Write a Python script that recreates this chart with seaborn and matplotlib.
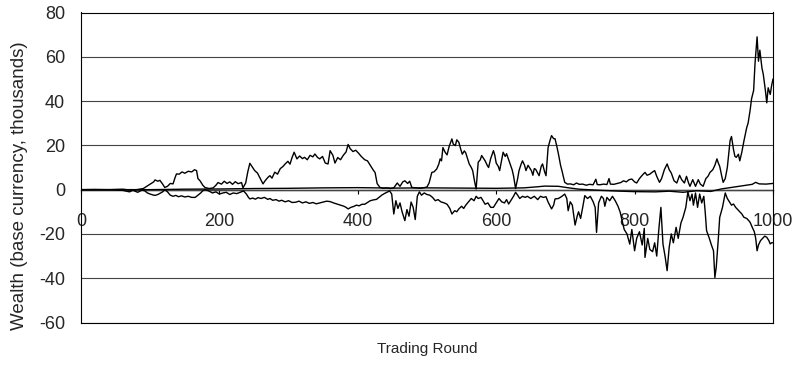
import matplotlib
matplotlib.use("Agg")
import matplotlib.pyplot as plt
import numpy as np
import pandas as pd
import seaborn as sns

# Upper trader wealth path (rounds, thousands)
rounds_a = [0, 20, 40, 60, 75, 85, 90, 95, 100, 105, 107, 111, 114, 118, 121, 125, 129, 133, 136, 138,
            142, 146, 150, 155, 160, 164, 167, 169, 172, 176, 179, 185, 191, 195, 198, 203, 207, 211, 215, 219,
            223, 227, 232, 234, 238, 241, 244, 247, 251, 255, 259, 263, 266, 270, 273, 276, 280, 284, 288, 292,
            295, 299, 302, 305, 308, 312, 316, 320, 323, 327, 331, 335, 338, 342, 345, 349, 353, 357, 360, 364,
            367, 371, 375, 379, 383, 386, 389, 393, 397, 401, 405, 410, 414, 418, 422, 425, 428, 432, 437, 442,
            447, 452, 457, 461, 465, 468, 472, 475, 478, 484, 490, 496, 500, 503, 507, 510, 514, 517, 519, 521,
            523, 526, 529, 532, 536, 538, 541, 543, 546, 549, 551, 554, 556, 559, 561, 564, 566, 569, 571, 573,
            574, 577, 579, 582, 584, 587, 589, 592, 596, 598, 600, 603, 605, 608, 610, 613, 615, 618, 620, 623,
            625, 628, 631, 633, 636, 638, 641, 643, 646, 648, 651, 653, 655, 657, 660, 662, 665, 667, 670, 672,
            675, 678, 680, 683, 685, 688, 690, 693, 695, 699, 703, 707, 712, 716, 720, 725, 730, 735, 740, 744,
            746, 750, 755, 760, 763, 765, 770, 775, 780, 784, 788, 792, 796, 800, 803, 807, 811, 815, 818, 822,
            826, 829, 832, 836, 839, 843, 847, 850, 853, 857, 861, 865, 868, 872, 875, 878, 880, 884, 888, 892,
            895, 899, 903, 906, 909, 913, 916, 919, 921, 923, 926, 928, 931, 934, 936, 938, 940, 943, 945, 947,
            950, 952, 955, 958, 962, 964, 967, 969, 972, 974, 977, 979, 981, 984, 986, 989, 991, 993, 996, 998,
            1000]
wealth_a = [0, 0.1, 0, 0.2, -0.3, 0.2, 0.5, 1.5, 2.5, 3.5, 4.4, 3.8, 4.2, 2.5, 1.0, 1.5, 2.8, 2.6, 5.5, 7.1,
            7.0, 8.0, 7.4, 8.3, 8.0, 9.0, 8.6, 5.0, 4.0, 2.0, 1.0, 0.5, 0.8, 2.0, 3.2, 2.5, 3.8, 2.8, 3.5, 2.4,
            3.6, 2.7, 3.2, 0.8, 3.0, 8.0, 11.9, 10.5, 8.6, 7.5, 5.0, 2.6, 4.0, 5.5, 6.3, 5.2, 7.9, 7.0, 9.5, 10.5,
            11.6, 12.8, 11.5, 14.5, 16.9, 13.9, 15.2, 14.0, 14.6, 13.5, 15.5, 14.8, 16.1, 14.5, 13.9, 15.0, 12.0, 11.6, 17.6, 15.5,
            12.0, 14.5, 13.5, 15.5, 17.0, 20.4, 18.5, 17.2, 17.8, 16.5, 15.0, 13.5, 13.0, 11.0, 9.0, 7.7, 2.7, 1.0, 0.6, 0.8,
            0.5, 0.8, 3.0, 1.5, 3.5, 4.0, 2.8, 3.8, 1.0, 0.8, 0.6, 0.9, 1.2, 3.0, 7.8, 8.0, 9.3, 11.5, 13.9, 13.0,
            19.0, 17.0, 15.7, 19.5, 22.9, 20.5, 19.9, 22.5, 21.4, 18.0, 16.0, 17.5, 16.6, 13.5, 11.6, 10.0, 8.6, 3.3, 0.3, 8.0,
            12.4, 13.5, 15.4, 14.0, 13.0, 11.0, 10.0, 14.0, 17.6, 15.5, 12.0, 10.5, 8.6, 13.5, 16.9, 15.0, 16.2, 13.5, 11.6, 9.0,
            6.3, 0.5, 5.0, 8.6, 11.5, 13.0, 11.0, 8.6, 11.0, 10.0, 8.5, 6.5, 9.5, 9.2, 7.5, 6.3, 10.5, 11.6, 8.0, 6.3,
            19.0, 22.5, 24.4, 23.0, 23.0, 19.0, 16.0, 11.0, 8.6, 3.3, 2.5, 2.6, 2.2, 3.0, 2.4, 2.5, 2.0, 2.4, 2.2, 4.7,
            2.3, 2.2, 2.5, 2.3, 5.0, 2.5, 2.4, 2.8, 3.2, 4.0, 3.5, 4.5, 4.8, 3.5, 3.0, 5.0, 6.5, 7.8, 6.5, 7.0,
            8.0, 8.6, 6.0, 3.3, 5.0, 9.0, 11.6, 9.0, 7.5, 4.0, 3.0, 6.5, 4.5, 3.0, 6.0, 3.0, 1.5, 4.5, 1.5, 4.5,
            2.5, 1.5, 5.0, 6.0, 7.8, 9.0, 11.0, 13.9, 12.0, 10.5, 6.0, 3.3, 5.0, 10.0, 16.0, 22.2, 24.0, 18.0, 15.0, 14.6,
            16.0, 13.0, 17.0, 22.0, 28.0, 30.0, 36.0, 41.0, 44.8, 56.9, 69.0, 58.0, 63.0, 55.0, 52.0, 44.8, 39.2, 46.0, 43.0, 47.0,
            50.0]

# Lower trader wealth path
rounds_b = [0, 20, 40, 60, 70, 75, 82, 88, 92, 96, 100, 104, 107, 111, 115, 118, 121, 125, 129, 133,
            137, 141, 145, 150, 155, 160, 165, 169, 173, 176, 179, 184, 190, 195, 200, 205, 210, 215, 220, 225,
            230, 235, 239, 242, 244, 248, 252, 256, 260, 265, 270, 273, 277, 282, 286, 290, 295, 300, 305, 310,
            315, 320, 325, 330, 335, 340, 345, 350, 355, 360, 365, 370, 375, 380, 383, 386, 390, 394, 398, 402,
            406, 410, 414, 418, 423, 427, 431, 435, 440, 446, 449, 452, 455, 458, 461, 464, 468, 471, 474, 477,
            480, 483, 486, 489, 492, 496, 500, 504, 508, 512, 516, 520, 525, 529, 533, 536, 540, 543, 546, 550,
            553, 556, 560, 564, 568, 571, 574, 578, 581, 584, 588, 592, 596, 600, 604, 608, 612, 615, 618, 622,
            625, 628, 631, 634, 638, 642, 645, 650, 655, 660, 664, 668, 672, 675, 678, 680, 683, 685, 690, 695,
            699, 702, 704, 707, 710, 714, 717, 719, 722, 725, 728, 732, 736, 740, 743, 745, 748, 752, 755, 757,
            760, 764, 768, 772, 776, 779, 782, 785, 789, 793, 796, 800, 803, 807, 811, 814, 815, 819, 822, 826,
            829, 832, 835, 838, 841, 844, 847, 850, 853, 856, 860, 863, 867, 870, 874, 877, 880, 883, 885, 888,
            891, 894, 897, 900, 902, 904, 908, 911, 914, 916, 918, 921, 923, 927, 931, 934, 937, 940, 943, 946,
            949, 952, 955, 958, 962, 965, 967, 970, 973, 975, 977, 979, 982, 985, 988, 991, 994, 996, 998, 1000]
wealth_b = [0, -0.1, 0, -0.3, -1.0, -0.3, -1.2, -0.2, -0.5, -1.5, -2.0, -2.4, -2.6, -2.2, -1.5, -1.0, 0.0, -1.0, -2.5, -3.0,
            -2.6, -3.2, -2.8, -3.3, -3.0, -3.5, -3.5, -2.5, -1.5, -0.5, 0.0, -0.5, -1.5, -1.0, -2.0, -1.5, -1.2, -2.2, -1.5, -1.8,
            -1.2, -0.6, -2.0, -3.5, -4.2, -3.8, -4.3, -3.6, -4.0, -3.5, -4.4, -4.0, -4.8, -4.5, -5.2, -4.8, -5.5, -5.0, -5.8, -5.7,
            -5.2, -6.0, -5.5, -6.2, -5.8, -6.4, -6.0, -5.6, -5.2, -5.4, -6.0, -6.5, -7.0, -7.5, -8.0, -8.7, -8.0, -7.6, -7.0, -7.3,
            -6.6, -6.6, -5.8, -5.0, -4.6, -4.4, -3.4, -2.4, -1.5, -0.6, -2.0, -11.0, -5.0, -8.5, -6.0, -10.0, -14.0, -9.0, -12.0, -5.6,
            -8.0, -13.5, -3.0, -1.0, -2.5, -1.5, -2.2, -2.5, -3.5, -5.0, -4.5, -5.5, -6.0, -6.6, -8.5, -11.0, -9.5, -10.0, -8.7, -7.5,
            -8.5, -7.0, -5.5, -4.0, -5.0, -3.0, -4.0, -3.5, -5.0, -6.6, -6.0, -8.0, -8.0, -6.0, -4.0, -5.5, -6.0, -4.5, -6.5, -4.5,
            -3.0, -1.2, -2.5, -4.0, -3.0, -3.5, -3.0, -4.0, -3.0, -4.5, -3.0, -3.5, -3.2, -5.6, -7.5, -8.7, -7.0, -4.2, -4.0, -3.0,
            -2.0, -4.0, -9.5, -5.5, -7.0, -16.0, -12.0, -10.0, -13.0, -8.0, -2.7, -4.0, -3.0, -5.4, -8.0, -19.3, -6.0, -3.0, -4.0, -7.5,
            -3.5, -5.0, -3.0, -5.0, -7.5, -10.0, -14.0, -18.0, -20.0, -24.6, -18.0, -27.6, -22.0, -19.0, -25.0, -17.5, -30.6, -22.0, -27.0, -28.0,
            -24.0, -30.0, -18.0, -8.0, -24.6, -30.0, -36.6, -26.0, -20.0, -24.0, -17.0, -22.0, -15.0, -12.5, -8.0, -1.0, -5.0, -2.0, -7.0, -1.5,
            -8.0, -2.0, -6.0, -3.0, -10.0, -18.5, -22.0, -25.0, -27.6, -39.7, -35.0, -22.0, -12.5, -8.0, -1.5, -4.0, -5.5, -7.0, -6.5, -8.0,
            -9.0, -10.0, -11.0, -12.5, -13.0, -14.0, -14.8, -17.0, -19.0, -22.0, -27.6, -25.0, -23.0, -22.0, -21.0, -21.5, -23.0, -24.5, -24.0, -24.0]

# Third trader, staying close to zero
rounds_c = [0, 100, 150, 200, 250, 300, 350, 400, 450, 500, 550, 600, 640, 660, 670, 690, 705, 720, 750, 780,
            800, 830, 850, 870, 890, 910, 925, 940, 955, 970, 975, 980, 990, 1000]
wealth_c = [0, 0, 0.2, 0.3, 0.5, 0.6, 0.8, 0.9, 0.7, 0.8, 0.7, 0.6, 0.8, 1.3, 1.6, 1.5, 0.8, 0.2, -0.3, -0.7,
            -0.9, -1.0, -0.7, -1.2, -0.5, -0.8, 0.3, 1.0, 1.7, 2.4, 3.3, 2.6, 2.5, 2.8]

x_ticks = [0, 200, 400, 600, 800, 1000]
y_ticks = [-60, -40, -20, 0, 20, 40, 60, 80]

df = pd.concat([
    pd.DataFrame({"round": rounds_a, "wealth": wealth_a, "trader": "A"}),
    pd.DataFrame({"round": rounds_b, "wealth": wealth_b, "trader": "B"}),
    pd.DataFrame({"round": rounds_c, "wealth": wealth_c, "trader": "C"}),
], ignore_index=True)

sns.set_style("white")
plt.rcParams["font.family"] = ["Liberation Sans", "DejaVu Sans"]

fig = plt.figure(figsize=(7.94, 3.65), dpi=100)
ax = fig.add_axes([81 / 794, 1 - 322.5 / 365, 692 / 794, 310 / 365])

sns.lineplot(data=df, x="round", y="wealth", hue="trader", palette=["black"] * 3,
             estimator=None, legend=False, linewidth=1.0, ax=ax, zorder=3)

ax.set_xlim(0, 1000)
ax.set_ylim(-60, 80)
ax.set_yticks(y_ticks)
ax.set_yticklabels([str(v) for v in y_ticks], fontsize=13)
ax.yaxis.grid(True, color="#444444", linewidth=0.8)
ax.set_axisbelow(True)
ax.tick_params(axis="y", direction="out", length=4.5, width=0.8, color="black", pad=7)

for side in ["left", "right", "top", "bottom"]:
    ax.spines[side].set_visible(True)
    ax.spines[side].set_color("black")
    ax.spines[side].set_linewidth(0.8)

# Category axis crosses the value axis at zero
ax.set_xticks([])
ax.set_xlabel("")
xa = ax.secondary_xaxis(60 / 140)
xa.set_xticks(x_ticks)
xa.set_xticklabels([str(v) for v in x_ticks], fontsize=13)
xa.tick_params(axis="x", direction="out", length=3, width=0.8, color="black", pad=14)
xa.spines["bottom"].set_color("black")
xa.spines["bottom"].set_linewidth(1.0)

ax.set_ylabel("Wealth (base currency, thousands)", fontsize=13.5)
ax.yaxis.set_label_coords(-0.076, 0.44)
fig.text(427 / 794, 1 - 349 / 365, "Trading Round", fontsize=11, ha="center", va="center")

fig.savefig("out.png", dpi=100)
